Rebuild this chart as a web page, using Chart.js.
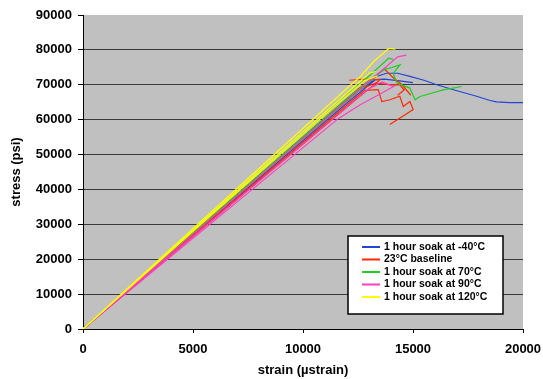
<!DOCTYPE html>
<html lang="en">
    <head>
        <meta charset="utf-8" />
        <title>stress vs strain</title>
        <script src="https://cdnjs.cloudflare.com/ajax/libs/Chart.js/4.4.0/chart.umd.js"></script>
        <style>
            html, body { margin: 0; padding: 0; background: #fff; }
            #wrap { width: 543px; height: 379px; }
        </style>
    </head>
    <body>
        <div id="wrap"><canvas id="canvas" width="543" height="379"></canvas></div>
        <script>
            // legend labels (one per soak condition)
            const groups = ["1 hour soak at -40°C", "23°C baseline", "1 hour soak at 70°C", "1 hour soak at 90°C", "1 hour soak at 120°C"];
            const colors = ["#2244d8", "#ff2a00", "#22cc22", "#ff3fc0", "#ffff00"];

            const yTicks = [0, 10000, 20000, 30000, 40000, 50000, 60000, 70000, 80000, 90000];
            const xTicks = [0, 5000, 10000, 15000, 20000];

            // -40C specimens [strain, stress]
            const cold1 = [[0,0],[6000,33000],[12000,66000],[13300,72300],[13800,73300],[14300,73300],[14860,72400],[15500,71300],[16075,70000],[17000,68300],[17890,66700],[18500,65500],[18800,65100],[19400,64900],[20000,64900]];
            const cold2 = [[0,0],[6000,32400],[12000,64800],[13300,71500],[13700,71600],[14300,71200],[15000,70600]];
            const cold3 = [[0,0],[7000,38200],[12500,68100],[13200,71200]];

            // 23C baseline specimens
            const base1 = [[0,0],[6000,32100],[12000,64200],[12800,68400],[13420,68600],[13580,65200],[13950,65700],[14400,66700],[14560,63800],[14860,65200],[15010,62900],[13950,58600]];
            const base2 = [[0,0],[5000,27200],[11000,60000],[12600,68700],[13300,70500],[14000,70000],[14400,70000],[14600,68500],[14300,67000]];
            const base3 = [[0,0],[7000,37100],[12500,66300],[13500,71400],[12800,71600],[12100,71300]];
            const base4 = [[0,0],[6000,33000],[12500,68700],[13700,74500],[14100,72000],[14500,70000],[14900,67000]];

            // 70C specimens
            const hot70a = [[0,0],[5000,28000],[10000,56000],[13000,72500],[13900,77600],[14100,77300]];
            const hot70b = [[0,0],[6000,33000],[12000,66000],[13600,74100],[14410,75700],[14100,73300],[14260,70500],[14860,69050],[15090,65700],[15320,66650],[16375,68550],[17210,69500]];
            const hot70c = [[0,0],[7000,38200],[12500,68000],[13500,73500],[13800,74800]];

            // 90C specimens
            const hot90a = [[0,0],[6000,31200],[11600,60300],[12600,64300],[13400,67000],[14260,70000]];
            const hot90b = [[0,0],[6000,32700],[12000,65400],[14300,78000],[14700,78500]];
            const hot90c = [[0,0],[7000,37100],[12000,63600],[13000,68900],[13600,70800],[14100,69500]];

            // 120C specimens
            const hot120a = [[0,0],[4000,23000],[8000,46000],[12000,69000],[12600,72300],[13200,76600],[13900,80400],[14200,80200]];
            const hot120b = [[0,0],[5000,28300],[10000,56500],[13000,73300],[13300,73800]];
            const hot120c = [[0,0],[6000,33600],[11000,61500],[12800,71200],[13400,72600]];

            const curves = [
                [0, cold1], [0, cold2], [0, cold3],
                [1, base1], [1, base2], [1, base3], [1, base4],
                [2, hot70a], [2, hot70b], [2, hot70c],
                [3, hot90a], [3, hot90b], [3, hot90c],
                [4, hot120a], [4, hot120b], [4, hot120c]
            ];

            const datasets = curves.map(function(c) {
                return {
                    label: groups[c[0]],
                    data: c[1].map(p => ({x: p[0], y: p[1]})),
                    borderColor: colors[c[0]],
                    backgroundColor: colors[c[0]],
                    borderWidth: 1.2,
                    pointRadius: 0,
                    showLine: true,
                    tension: 0,
                    order: 5 - c[0]
                };
            });

            const plotBg = {
                id: 'plotBg',
                beforeDraw(chart) {
                    const a = chart.chartArea, ctx = chart.ctx;
                    ctx.save();
                    ctx.fillStyle = '#c0c0c0';
                    ctx.fillRect(a.left, a.top, a.right - a.left, a.bottom - a.top);
                    ctx.restore();
                }
            };

            const boxLegend = {
                id: 'boxLegend',
                afterDraw(chart) {
                    const a = chart.chartArea, ctx = chart.ctx;
                    const bx = a.right - 175, by = a.bottom - 93, bw = 155, bh = 78;
                    ctx.save();
                    ctx.fillStyle = '#fff';
                    ctx.fillRect(bx, by, bw, bh);
                    ctx.strokeStyle = '#000';
                    ctx.lineWidth = 1.5;
                    ctx.strokeRect(bx, by, bw, bh);
                    ctx.font = 'bold 10.5px "Liberation Sans", Arial, sans-serif';
                    ctx.textBaseline = 'middle';
                    ctx.fillStyle = '#000';
                    for (let i = 0; i < groups.length; i++) {
                        const ly = by + 11 + i * 12.5;
                        ctx.strokeStyle = colors[i];
                        ctx.lineWidth = 2;
                        ctx.beginPath();
                        ctx.moveTo(bx + 14, ly);
                        ctx.lineTo(bx + 32, ly);
                        ctx.stroke();
                        ctx.fillText(groups[i], bx + 36, ly);
                    }
                    ctx.restore();
                }
            };

            const font = { family: '"Liberation Sans", Arial, sans-serif', size: 13, weight: 'bold' };

            new Chart("canvas", {
                type: "scatter",
                data: { datasets: datasets },
                plugins: [plotBg, boxLegend],
                options: {
                    responsive: false,
                    animation: false,
                    events: [],
                    layout: { padding: { top: 15, right: 20, left: 0, bottom: 0 } },
                    plugins: {
                        legend: { display: false },
                        tooltip: { enabled: false }
                    },
                    scales: {
                        x: {
                            type: 'linear',
                            min: 0,
                            max: 20000,
                            afterFit(s) { s.height = 50; s.paddingRight = 0; s.paddingLeft = 0; },
                            afterBuildTicks(s) { s.ticks = xTicks.map(v => ({value: v})); },
                            ticks: { color: '#000', font: font, padding: 9, maxRotation: 0, callback: v => String(v) },
                            grid: { drawOnChartArea: false, tickLength: 4, tickColor: '#000' },
                            border: { color: '#000', width: 1 },
                            title: { display: true, text: 'strain (µstrain)', color: '#000', font: font, padding: { top: 4, bottom: 1 } }
                        },
                        y: {
                            type: 'linear',
                            min: 0,
                            max: 90000,
                            afterFit(s) { s.width = 83; },
                            afterBuildTicks(s) { s.ticks = yTicks.map(v => ({value: v})); },
                            ticks: { color: '#000', font: font, padding: 6, callback: v => String(v) },
                            grid: {
                                color: ctx => (ctx.tick && ctx.tick.value === 90000) ? 'rgba(0,0,0,0)' : '#3a3a3a',
                                lineWidth: 1,
                                tickLength: 5,
                                tickColor: '#000'
                            },
                            border: { color: '#000', width: 1 },
                            title: { display: true, text: 'stress (psi)', color: '#000', font: font, padding: { top: 9, bottom: 2 } }
                        }
                    }
                }
            });
        </script>
    </body>
</html>
